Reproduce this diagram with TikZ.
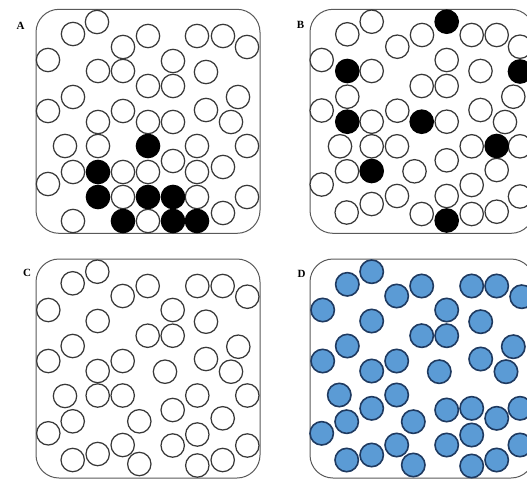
\documentclass[tikz,border=0pt]{standalone}
\usepackage{fontspec}
\setmainfont{Liberation Serif}
\begin{document}
\begin{tikzpicture}[x=1pt,y=-1pt,
  panel/.style={draw=black!65,line width=1pt,rounded corners=23pt},
  wc/.style={draw=black!78,line width=1.25pt,fill=white},
  bc/.style={draw=black,line width=1.25pt,fill=black},
  uc/.style={draw=navyc,line width=1.6pt,fill=bluec},
  lab/.style={font=\fontsize{11}{13}\selectfont\bfseries,inner sep=0pt}]
\definecolor{bluec}{HTML}{5B9BD5}
\definecolor{navyc}{HTML}{1F3A60}
\useasboundingbox (0,0) rectangle (527,480);
\clip (0,0) rectangle (527,480);
\def\R{11.7pt}
% Panel A
\draw[panel] (36,9.3) rectangle (260,233.3);
\foreach \x/\y in {97/22,73/34,148/36,197/36,223/36,247/47,123/47,48/60,173/61,98/71,123/71,206/72,148/86,173/86,73/97,238/97,48/111,123/111,206/110,98/122,148/122,173/122,231/122,65/146,98/146,197/146,247/146,173/161,73/172,123/172,148/172,197/172,223/167,48/184,123/197,197/197,247/197,73/221,148/221,223/213}
  \draw[wc] (\x,\y) circle[radius=\R];
\foreach \x/\y in {148/146,98/172,98/197,148/197,173/197,123/221,173/221,197/221}
  \draw[bc] (\x,\y) circle[radius=\R];
\node[lab] (la) at (20.5,26) {A};
% Panel B
\draw[panel] (310,9.3) rectangle (534,233.3);
\foreach \x/\y in {371.7/21.7,347.3/34.3,422/35,397.3/46.7,471.7/35,496.7/35,520/46.7,321.7/60,371.7/71,446.7/60,480.5/71,421.7/86,446.7/86,347.3/96.7,513.3/96.7,321.7/110.5,371.7/121.7,397.3/110.7,446.7/121.7,480.5/110,505/122,340/146.3,371.7/146.3,397/146.3,471.7/146.3,520/146.3,446.7/160.3,347/171.3,414.5/171.3,496.7/170,321.7/184.5,471.7/185,397/196,371.7/204,346.7/212.5,421.7/214,446.7/196,471.7/214,496.7/211.7,520/196.5}
  \draw[wc] (\x,\y) circle[radius=\R];
\foreach \x/\y in {446.7/21.7,347.3/71,520/71.5,347.3/121.7,421.7/121.7,496.7/146,371.7/171,446.7/220.5}
  \draw[bc] (\x,\y) circle[radius=\R];
\node[lab] (lb) at (300.5,25) {B};
% Panel C
\draw[panel] (36,259) rectangle (260,478);
\foreach \x/\y in {97.3/271.7,72.7/283.3,122.7/296,147.7/286,197.3/286,222.7/286,247.3/296.7,48.3/310,172.7/310,97.7/321,206/321.7,147.7/335.7,172.7/335.7,72.7/346,238.3/346.7,48.3/361,122.7/361,97.7/371,165/371.7,206/359,231/371.7,65/396,97.7/395.5,122.7/395.5,197.3/395.5,247.3/395.5,172.7/410,72.7/421.3,139.3/421.3,222.7/418.3,48.3/433.3,197.3/434.5,172.7/445.5,122.7/445,97.7/454,72.7/460,139.3/464,197.3/465.5,222.7/460,247.3/445.5}
  \draw[wc] (\x,\y) circle[radius=\R];
\node[lab] (lc) at (27,273.3) {C};
% Panel D
\draw[panel] (310,259) rectangle (534,478);
\foreach \x/\y in {371.7/271.7,347.3/284.3,396.7/296,421.7/286,471.7/286,496.7/286,521.7/296.7,322.7/310,446.7/310,371.7/321,480.7/321.7,421.7/335.7,446.7/335.7,347.3/346,513.3/346.7,322.7/361,396.7/361,371.7/371,439.3/371.7,480.7/359,506/371.7,339.3/395,396.7/395,371.7/408.3,446.7/410,471.7/408.3,496.7/418.3,520/408.3,346.7/421.7,413.3/421.7,321.7/433.3,471.7/435,446.7/445,396.7/445,371.7/455,346.7/460,413.3/465,471.7/466,496.7/460,520/445}
  \draw[uc] (\x,\y) circle[radius=\R];
\node[lab] (ld) at (301.5,274.3) {D};
\end{tikzpicture}
\end{document}
